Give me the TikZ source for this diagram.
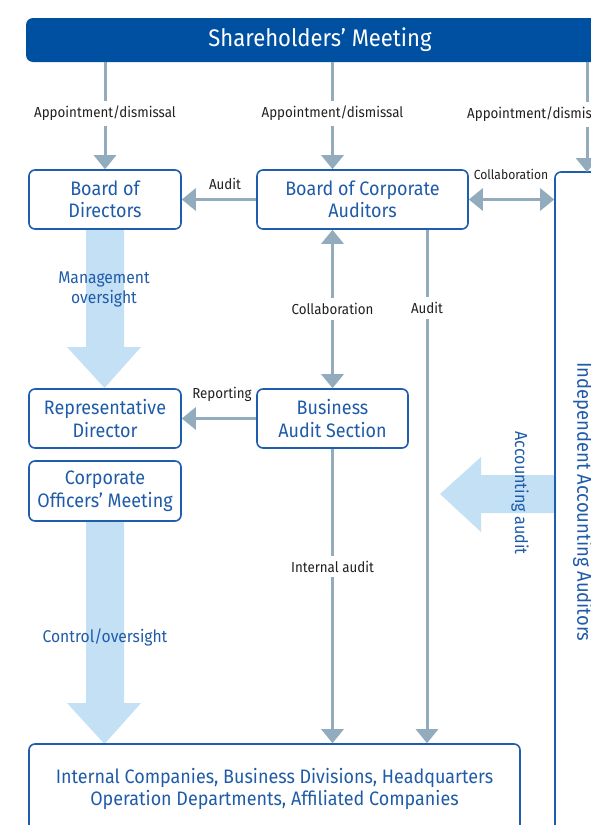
\documentclass[tikz,border=0pt]{standalone}
\usepackage{fontspec}
\setmainfont{Fira Sans}[FakeStretch=0.92]
\usetikzlibrary{arrows.meta}
\definecolor{dblue}{HTML}{0050A2}
\definecolor{bblue}{HTML}{1E5EAC}
\definecolor{tblue}{HTML}{1F5BA8}
\definecolor{garrow}{HTML}{92ACBD}
\definecolor{lblue}{HTML}{C4E0F5}
\definecolor{lbl}{HTML}{231F20}
\tikzset{
  orgbox/.style={draw=bblue, line width=1.6pt, rounded corners=6pt, fill=white, text=tblue,
    font=\fontsize{19.5}{22.5}\selectfont, align=center, inner sep=0pt},
  conn/.style={draw=garrow, line width=3pt},
  tipend/.style={-{Triangle[width=22pt,length=14pt]}},
  tipboth/.style={{Triangle[width=22pt,length=14pt]}-{Triangle[width=22pt,length=14pt]}},
  lab/.style={font=\fontsize{14.5}{17}\selectfont, text=lbl, inner sep=1pt},
  midlab/.style={font=\fontsize{14.5}{17}\selectfont, text=lbl, fill=white, inner xsep=2pt, inner ysep=5pt},
  bigarrow/.style={fill=lblue},
  biglab/.style={text=tblue, font=\fontsize{17}{20}\selectfont, align=center},
}
\begin{document}
\begin{tikzpicture}[x=1pt,y=-1pt]
\useasboundingbox (0,0) rectangle (591,825);
\clip (0,0) rectangle (591,825);

% big light arrows
\fill[bigarrow] (86,230) -- (124,230) -- (124,347) -- (141,347) -- (104.5,388) -- (67,347) -- (86,347) -- cycle;
\fill[bigarrow] (86,521) -- (124,521) -- (124,703) -- (141,703) -- (104.5,744) -- (67,703) -- (86,703) -- cycle;
\fill[bigarrow] (556,475) -- (481,475) -- (481,457) -- (440,494) -- (481,532) -- (481,513) -- (556,513) -- cycle;

% nodes
\node[fill=dblue, rounded corners=7pt, minimum width=588pt, minimum height=44pt, inner sep=0pt,
  text=white, font=\fontsize{24}{28}\selectfont] (sh) at (320,40) {Shareholders’ Meeting};
\node[orgbox, minimum width=152pt, minimum height=59pt] (bod) at (105,199.5) {Board of\\Directors};
\node[orgbox, minimum width=211pt, minimum height=59pt] (bca) at (362.5,199.5) {Board of Corporate\\Auditors};
\node[orgbox, minimum width=152pt, minimum height=59pt] (rd) at (105,418.5) {Representative\\Director};
\node[orgbox, minimum width=151pt, minimum height=59pt] (bas) at (332.5,418.5) {Business\\Audit Section};
\node[orgbox, minimum width=152pt, minimum height=60pt] (com) at (105,491) {Corporate\\Officers' Meeting};
\node[orgbox, fill=none, minimum width=491pt, minimum height=90pt] (ic) at (274.5,789)
  {Internal Companies, Business Divisions, Headquarters\\Operation Departments, Affiliated Companies};
\node[orgbox, fill=none, minimum width=56pt, minimum height=660pt, font=\fontsize{20}{24}\selectfont] (iaa) at (583,502)
  {\rotatebox{-90}{Independent Accounting Auditors}};

% big arrow labels
\node[biglab] (lmo) at (104,289) {Management\\oversight};
\node[biglab] (lco) at (105,637) {Control/oversight};
\node[biglab, font=\fontsize{17.5}{20}\selectfont] (laa) at (520,493) {\rotatebox{-90}{Accounting audit}};

% connectors
\coordinate (iaatop) at (587,172);
\coordinate (ax) at (427,0);
\draw[conn,tipend] (sh.south -| bod.north) -- node[midlab, pos=0.48] {Appointment/dismissal} (bod.north);
\draw[conn,tipend] (sh.south -| bas.north) -- node[midlab, pos=0.48] {Appointment/dismissal} (bas.north |- bca.north);
\draw[conn,tipend] (sh.south -| iaatop) -- (iaatop);
\node[midlab, anchor=west] (lap3) at (465,114.5) {Appointment/dismissal};

\draw[conn,tipend] (bca.west) -- (bod.east);
\node[lab] (laud) at (225,184) {Audit};
\draw[conn,tipboth] (bca.east) -- (iaa.west |- bca.east);
\node[lab, font=\fontsize{13.2}{16}\selectfont] (lcol) at (511,174) {Collaboration};

\draw[conn,tipboth] (bca.south -| bas.north) -- node[midlab, pos=0.5] {Collaboration} (bas.north);
\draw[conn,tipend] (bca.south -| ax) -- node[midlab, pos=0.152] {Audit} (ic.north -| ax);

\draw[conn,tipend] (bas.west) -- (rd.east);
\node[lab] (lrep) at (222,394) {Reporting};
\draw[conn,tipend] (bas.south) -- node[midlab, pos=0.4] {Internal audit} (ic.north -| bas.south);
\end{tikzpicture}
\end{document}
